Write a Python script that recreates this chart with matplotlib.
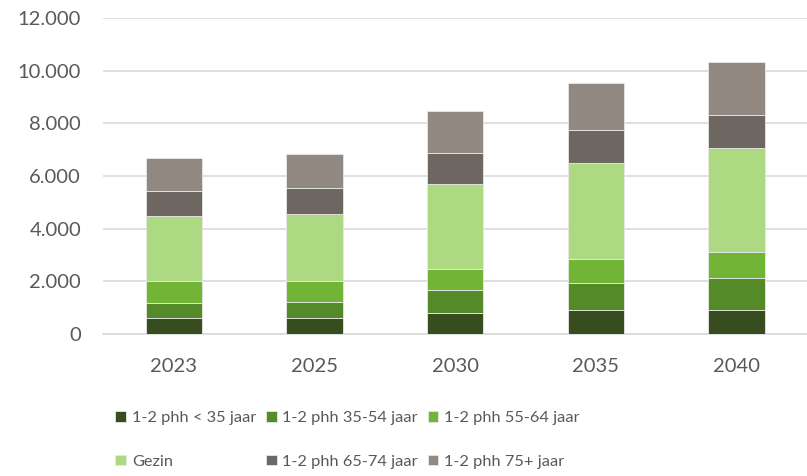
import matplotlib.pyplot as plt
import numpy as np

# Data
years = ['2023', '2025', '2030', '2035', '2040']
labels = ['1-2 phh < 35 jaar', '1-2 phh 35-54 jaar', '1-2 phh 55-64 jaar',
          'Gezin', '1-2 phh 65-74 jaar', '1-2 phh 75+ jaar']
phh_lt35 = [600, 600, 810, 925, 925]
phh_35_54 = [600, 620, 850, 1030, 1220]
phh_55_64 = [800, 810, 825, 900, 990]
gezin = [2500, 2540, 3225, 3660, 3925]
phh_65_74 = [950, 970, 1155, 1255, 1255]
phh_75plus = [1250, 1300, 1590, 1780, 2035]
colors = ['#384D1F', '#558A29', '#72B536', '#ADD983', '#6E6660', '#918882']

plt.rcParams['font.family'] = ['Lato', 'DejaVu Sans']

fig = plt.figure(figsize=(8.07, 4.76), dpi=100)
ax = fig.add_axes([0.128, 0.298, 0.872, 0.664])

series = [phh_lt35, phh_35_54, phh_55_64, gezin, phh_65_74, phh_75plus]
x = np.arange(len(years))
bottom = np.zeros(len(years))
bars = []
for vals, lab, col in zip(series, labels, colors):
    b = ax.bar(x, vals, 0.4, bottom=bottom, color=col, label=lab,
               edgecolor='#E8E8E8', linewidth=0.6, zorder=3)
    bars.append(b)
    bottom += np.array(vals)

ax.set_ylim(0, 12000)
ax.set_xlim(-0.5, len(years) - 0.5)
ax.set_yticks(range(0, 12001, 2000))
ax.set_yticklabels(['0' if v == 0 else f'{v:,}'.replace(',', '.') for v in range(0, 12001, 2000)])
ax.set_xticks(x)
ax.set_xticklabels(years)
ax.tick_params(length=0, labelsize=14.5, colors='#595959')
ax.tick_params(axis='y', pad=16)
ax.tick_params(axis='x', pad=17)
ax.yaxis.grid(True, color='#D9D9D9', linewidth=1.2, zorder=0)
for s in ['top', 'right', 'left']:
    ax.spines[s].set_visible(False)
ax.spines['bottom'].set_color('#D9D9D9')
ax.spines['bottom'].set_linewidth(1.2)

# legend fills column-wise, reorder so rows read like the reference
order = [0, 3, 1, 4, 2, 5]
fig.legend([bars[i] for i in order], [labels[i] for i in order],
           loc='upper left', bbox_to_anchor=(0.143, 0.137), ncol=3, frameon=False,
           fontsize=11.8, labelcolor='#595959', handlelength=0.65, handleheight=0.65,
           handletextpad=0.35, columnspacing=0.6, labelspacing=1.8,
           borderaxespad=0, borderpad=0)

fig.savefig('out.png', dpi=100)
